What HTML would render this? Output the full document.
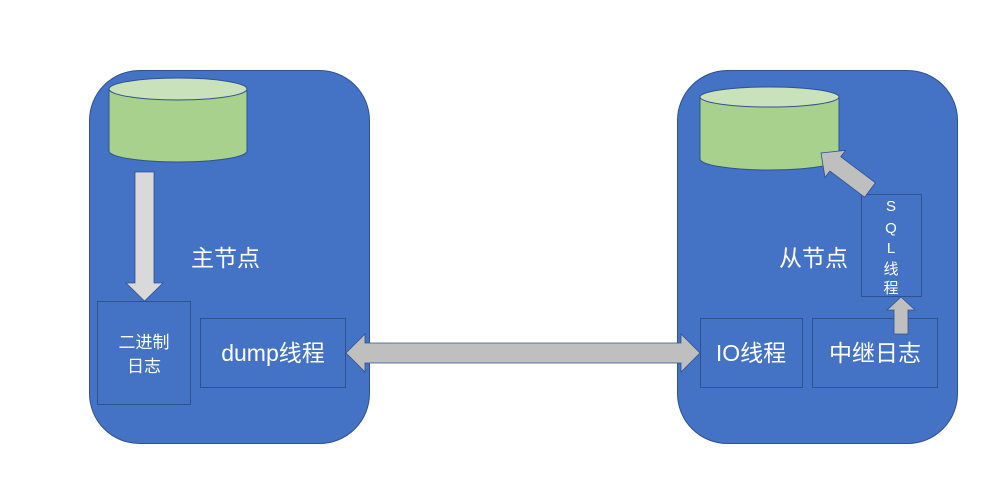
<!DOCTYPE html>
<html><head><meta charset="utf-8"><style>
body{margin:0;background:#fff;width:996px;height:484px;overflow:hidden}
svg text{font-family:"Liberation Sans","Noto Sans CJK SC",sans-serif;fill:#fff}
</style></head><body>
<svg width="996" height="484" xmlns="http://www.w3.org/2000/svg">
<rect x="89.5" y="70.5" width="280" height="373" rx="50" fill="#4472c4" stroke="#2f528f"/>
<rect x="677.5" y="70.5" width="280" height="373" rx="50" fill="#4472c4" stroke="#2f528f"/>
<path d="M109 89 V151 A69 11 0 0 0 247 151 V89" fill="#a9d18e" stroke="#2f528f"/>
<ellipse cx="178" cy="89" rx="69" ry="11" fill="#c9e2bc" stroke="#2f528f"/>
<path d="M700 97 V159 A69.5 11 0 0 0 839 159 V97" fill="#a9d18e" stroke="#2f528f"/>
<ellipse cx="769.5" cy="97" rx="69.5" ry="10" fill="#c9e2bc" stroke="#2f528f"/>
<polygon points="135,172 154,172 154,283 163,283 144.5,301 126,283 135,283" fill="#d9d9d9" stroke="#2f528f" stroke-width="0.8"/>
<text x="191" y="266" font-size="23">主节点</text>
<text x="779" y="266" font-size="23">从节点</text>
<rect x="97.5" y="301.5" width="93" height="103" fill="#4472c4" stroke="#2f528f"/>
<text x="144" y="348" font-size="17" text-anchor="middle">二进制</text>
<text x="144" y="372" font-size="17" text-anchor="middle">日志</text>
<rect x="200.5" y="318.5" width="145" height="69" fill="#4472c4" stroke="#2f528f"/>
<text x="273" y="361" font-size="23" text-anchor="middle">dump线程</text>
<rect x="700.5" y="318.5" width="102" height="69" fill="#4472c4" stroke="#2f528f"/>
<text x="751" y="361" font-size="23" text-anchor="middle">IO线程</text>
<rect x="812.5" y="318.5" width="125" height="69" fill="#4472c4" stroke="#2f528f"/>
<text x="875" y="361" font-size="23" text-anchor="middle">中继日志</text>
<rect x="861.5" y="194.5" width="60" height="102" fill="#4472c4" stroke="#2f528f"/>
<g font-size="15" text-anchor="middle">
<text x="891" y="211">S</text><text x="891" y="233">Q</text><text x="891" y="253">L</text>
<text x="891" y="274">线</text><text x="891" y="293">程</text></g>
<polygon points="346,353 365,334 365,343 681,343 681,334 700,353 681,372 681,363 365,363 365,372" fill="#bfbfbf" stroke="#2f528f" stroke-width="0.8"/>
<polygon points="894,334 908,334 908,310 915,310 901,297 887,310 894,310" fill="#bfbfbf" stroke="#2f528f" stroke-width="0.8"/>
<polygon points="875.4,182.8 840.7,156.7 845.6,150.4 821,153 825,177.4 829.9,171.1 864.6,197.2" fill="#bfbfbf" stroke="#2f528f" stroke-width="0.8"/>
</svg>
</body></html>
